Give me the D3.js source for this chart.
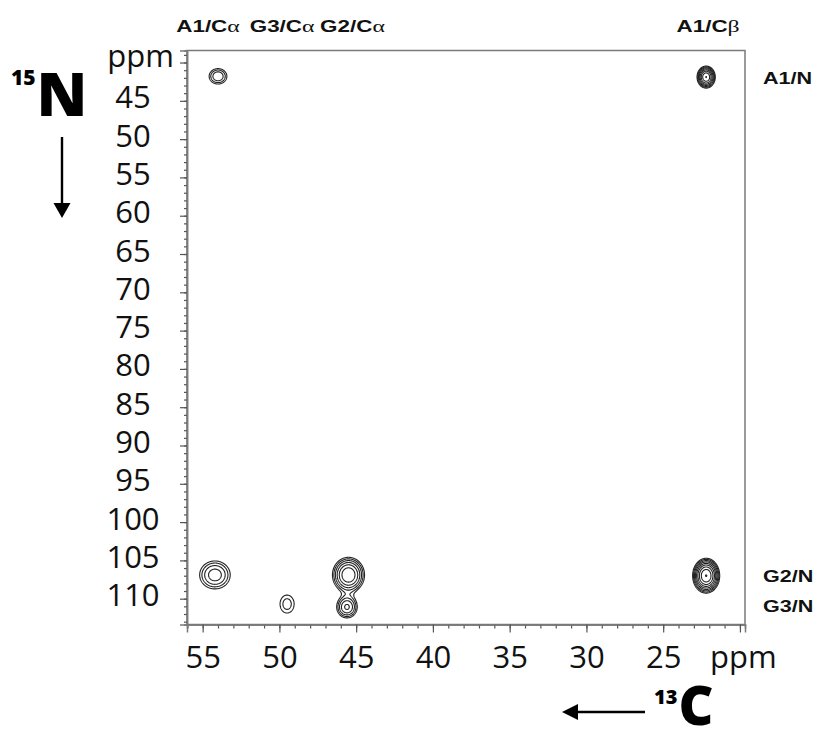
<!DOCTYPE html>
<html>
<head>
<meta charset="utf-8">
<script src="https://cdn.jsdelivr.net/npm/d3@7"></script>
<style>
  body { margin: 0; background: #fff; }
  svg { display: block; }
</style>
</head>
<body>
<svg id="chart" width="817" height="740"></svg>
<script>
// ---- Cross-peaks of the 2D 15N-13C correlation spectrum (Ala-Gly-Gly) ----
const peakNames  = ["A1Ca-A1N", "A1Cb-A1N", "A1Ca-G2N", "G3Ca-G3N", "G2Ca-G2N", "G2Ca-G3N", "A1Cb-G2N"];
const peakC      = [54.0, 22.2, 54.2, 49.5, 45.5, 45.6, 22.2];     // 13C shift, ppm
const peakN      = [41.8, 41.9, 106.9, 110.7, 106.9, 111.1, 107.0]; // 15N shift, ppm
const peakHeight = [2.2, 6.3, 2.6, 1.5, 4.8, 3.0, 8.2];             // relative intensity
const peakWidthC = [0.46, 0.31, 0.72, 0.51, 0.59, 0.45, 0.43];      // Gaussian sigma along 13C, ppm
const peakWidthN = [0.80, 0.75, 1.32, 1.30, 1.30, 0.95, 1.11];      // Gaussian sigma along 15N, ppm

// contour levels (relative intensity)
const contourLevels = [1, 1.3, 1.69, 2.2, 2.86, 3.71, 4.83, 6.27, 8.16];

// axes
const carbonTicks       = [55, 50, 45, 40, 35, 30, 25, 20];
const carbonTickLabels  = ["55", "50", "45", "40", "35", "30", "25", "ppm"];
const nitrogenTicks     = [40, 45, 50, 55, 60, 65, 70, 75, 80, 85, 90, 95, 100, 105, 110];
const nitrogenTickLabels = ["ppm", "45", "50", "55", "60", "65", "70", "75", "80", "85", "90", "95", "100", "105", "110"];

// assignments
const carbonAssignments      = ["A1/C", "G3/C", "G2/C", "A1/C"];
const carbonAssignmentGreek  = ["α", "α", "α", "β"];
const carbonAssignmentShifts = [54.0, 49.5, 45.5, 22.2];
const nitrogenAssignments      = ["A1/N", "G2/N", "G3/N"];
const nitrogenAssignmentShifts = [41.8, 106.9, 110.7];

// ---- layout ----
const svg = d3.select("#chart");
const plot = { left: 187, right: 745, top: 50.5, bottom: 624.5 };

const x = d3.scaleLinear().domain([56.02, 19.67]).range([plot.left, plot.right]);
const y = d3.scaleLinear().domain([38.43, 113.37]).range([plot.top, plot.bottom]);

const labelFont = "'Open Sans', 'Noto Sans', sans-serif";
const assignFont = "'Liberation Sans', Arial, sans-serif";

// ---- contour map ----
const step = 0.5;
const nx = Math.round((plot.right - plot.left) / step);
const ny = Math.round((plot.bottom - plot.top) / step);
const grid = new Float64Array(nx * ny);
for (let j = 0; j < ny; j++) {
  const n = y.invert(plot.top + (j + 0.5) * step);
  for (let i = 0; i < nx; i++) {
    const c = x.invert(plot.left + (i + 0.5) * step);
    let v = 0;
    for (let k = 0; k < peakC.length; k++) {
      const dc = (c - peakC[k]) / peakWidthC[k];
      const dn = (n - peakN[k]) / peakWidthN[k];
      const r2 = dc * dc + dn * dn;
      if (r2 < 40) v += peakHeight[k] * Math.exp(-0.5 * r2);
    }
    grid[j * nx + i] = v;
  }
}

const contours = d3.contours().size([nx, ny]).thresholds(contourLevels)(grid);
const toPlot = d3.geoTransform({
  point(px, py) { this.stream.point(plot.left + px * step, plot.top + py * step); }
});
const contourPath = d3.geoPath(toPlot);

svg.append("g")
  .attr("class", "contours")
  .selectAll("path")
  .data(contours)
  .join("path")
  .attr("d", contourPath)
  .attr("fill", "none")
  .attr("stroke", "#222")
  .attr("stroke-width", 1.1)
  .attr("stroke-linejoin", "round");

// ---- frame ----
svg.append("rect")
  .attr("x", plot.left).attr("y", plot.top)
  .attr("width", plot.right - plot.left).attr("height", plot.bottom - plot.top)
  .attr("fill", "none").attr("stroke", "#7a7a7a").attr("stroke-width", 1.5);

// ---- axes ----
const xMinor = d3.range(20, 57, 1);
const yMinor = d3.range(39, 114, 1);

const xAxisMinor = svg.append("g")
  .attr("transform", `translate(0,${plot.bottom})`)
  .call(d3.axisBottom(x).tickValues(xMinor).tickSize(4).tickFormat(""));
const xAxis = svg.append("g")
  .attr("transform", `translate(0,${plot.bottom})`)
  .call(d3.axisBottom(x).tickValues(carbonTicks).tickSize(8)
    .tickFormat((d, i) => carbonTickLabels[i]));

const yAxisMinor = svg.append("g")
  .attr("transform", `translate(${plot.left},0)`)
  .call(d3.axisLeft(y).tickValues(yMinor).tickSize(3).tickFormat(""));
const yAxis = svg.append("g")
  .attr("transform", `translate(${plot.left},0)`)
  .call(d3.axisLeft(y).tickValues(nitrogenTicks).tickSize(7)
    .tickFormat((d, i) => nitrogenTickLabels[i]));

[xAxisMinor, xAxis, yAxisMinor, yAxis].forEach(g => {
  g.select(".domain").attr("stroke", "#7a7a7a").attr("stroke-width", 1.5);
  g.selectAll(".tick line").attr("stroke", "#555").attr("stroke-width", 1.2);
});

xAxis.selectAll(".tick text")
  .attr("font-family", labelFont).attr("font-size", 31).attr("font-weight", 500).attr("fill", "#111")
  .attr("y", 43.5).attr("dy", 0)
  .attr("dx", (d, i) => carbonTickLabels[i] === "ppm" ? 3 : 0);

yAxis.selectAll(".tick text")
  .attr("font-family", labelFont).attr("font-size", 31).attr("font-weight", 500).attr("fill", "#111")
  .attr("text-anchor", (d, i) => nitrogenTickLabels[i] === "ppm" ? "end" : "middle")
  .attr("x", (d, i) => nitrogenTickLabels[i] === "ppm" ? -13 : -54)
  .attr("dy", (d, i) => nitrogenTickLabels[i] === "ppm" ? 3.5 : 7);

// ---- assignment labels ----
const topNudge = [-10, -5, 4, 2];
const topLabels = svg.append("g").attr("class", "carbon-assignments");
carbonAssignments.forEach((lab, i) => {
  const t = topLabels.append("text")
    .attr("transform", `translate(${x(carbonAssignmentShifts[i]) + topNudge[i]},32) scale(1.4,1)`)
    .attr("text-anchor", "middle")
    .attr("fill", "#111");
  t.append("tspan").attr("font-family", assignFont).attr("font-weight", "bold").attr("font-size", 16).text(lab);
  t.append("tspan").attr("font-family", "'Liberation Serif', 'Times New Roman', serif").attr("font-size", 17).text(carbonAssignmentGreek[i]);
});

const rightLabels = svg.append("g").attr("class", "nitrogen-assignments");
nitrogenAssignments.forEach((lab, i) => {
  rightLabels.append("text")
    .attr("transform", `translate(${plot.right + 18},${y(nitrogenAssignmentShifts[i]) + 7.5}) scale(1.35,1)`)
    .attr("font-family", assignFont).attr("font-weight", "bold").attr("font-size", 16)
    .attr("fill", "#111")
    .text(lab);
});

// ---- nucleus labels with direction arrows ----
const bold = "'Open Sans', 'Noto Sans', sans-serif";
const nLabel = svg.append("text").attr("font-family", bold).attr("font-weight", 800).attr("fill", "#000");
nLabel.append("tspan").attr("x", 11).attr("y", 85).attr("font-size", 21).text("15");
nLabel.append("tspan").attr("y", 116).attr("font-size", 61).attr("dx", 1).text("N");

svg.append("line").attr("x1", 62).attr("y1", 137).attr("x2", 62).attr("y2", 206)
  .attr("stroke", "#000").attr("stroke-width", 2.4);
svg.append("path").attr("d", "M53.5,203 L70.5,203 L62,218 Z").attr("fill", "#000");

const cLabel = svg.append("text").attr("font-family", bold).attr("font-weight", 800).attr("fill", "#000");
cLabel.append("tspan").attr("x", 654).attr("y", 704).attr("font-size", 20).text("13");
cLabel.append("tspan").attr("y", 725).attr("font-size", 54).attr("dx", 1).text("C");

svg.append("line").attr("x1", 574).attr("y1", 712).attr("x2", 645).attr("y2", 712)
  .attr("stroke", "#000").attr("stroke-width", 2.4);
svg.append("path").attr("d", "M562,712 L578,704 L578,720 Z").attr("fill", "#000");
</script>
</body>
</html>
